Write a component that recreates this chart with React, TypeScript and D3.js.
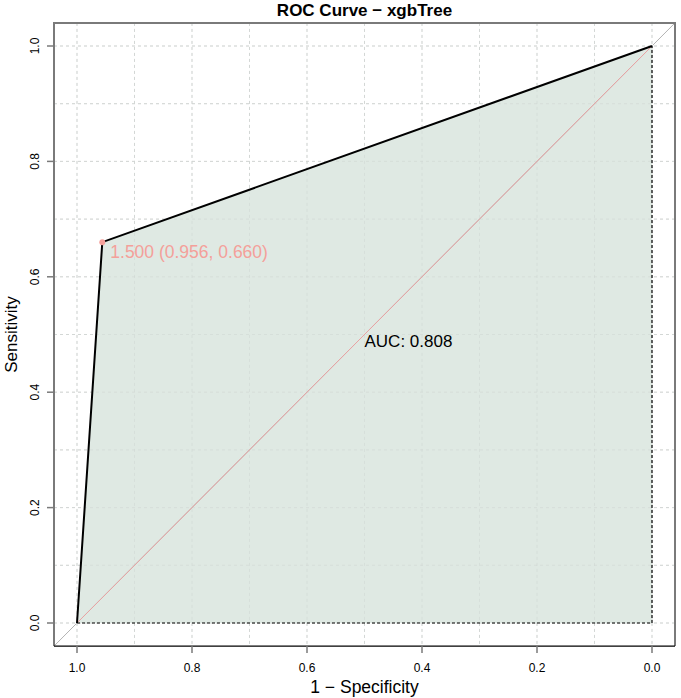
import React from "react";
import * as d3 from "d3";

const specificity = [1.0, 0.956, 0.0];
const sensitivity = [0.0, 0.66, 1.0];
const tickValues = [1.0, 0.8, 0.6, 0.4, 0.2, 0.0];
const gridValues = [0, 0.1, 0.2, 0.3, 0.4, 0.5, 0.6, 0.7, 0.8, 0.9, 1.0];
const threshold = { value: 1.5, spec: 0.956, sens: 0.66 };
const aucValue = 0.808;
const title = "ROC Curve \u2212 xgbTree";

export default function App() {
  const W = 681, H = 698;
  const x = d3.scaleLinear().domain([1, 0]).range([77, 652]);
  const y = d3.scaleLinear().domain([0, 1]).range([623, 46]);
  const x0 = x(1.04), x1 = x(-0.04), y0 = y(-0.04), y1 = y(1.04);
  const pts = specificity.map((s, i) => [s, sensitivity[i]] as [number, number]);
  const line = d3.line<[number, number]>().x(d => x(d[0])).y(d => y(d[1]));
  const area = line([...pts, [0, 0], [1, 0]]) + "Z";
  const font = "Liberation Sans, Arial, sans-serif";
  return (
    <svg width={W} height={H} style={{ position: "absolute", left: 0, top: 0 }} fontFamily={font}>
      <rect x={0} y={0} width={W} height={H} fill="#fff" />
      <text x={(x0 + x1) / 2} y={16} textAnchor="middle" fontWeight="bold" fontSize={17}>{title}</text>
      {gridValues.map(g => (
        <g key={g}>
          <line x1={x(g)} x2={x(g)} y1={y1} y2={y0} stroke="#d9d9d9" strokeDasharray="3,3" />
          <line x1={x0} x2={x1} y1={y(g)} y2={y(g)} stroke="#d9d9d9" strokeDasharray="3,3" />
        </g>
      ))}
      <path d={area} fill="#dfe9e3" />
      {gridValues.map(g => (
        <g key={"o" + g}>
          <line x1={x(g)} x2={x(g)} y1={y1} y2={y0} stroke="#cfd6d2" strokeDasharray="3,3" opacity={0.5} />
          <line x1={x0} x2={x1} y1={y(g)} y2={y(g)} stroke="#cfd6d2" strokeDasharray="3,3" opacity={0.5} />
        </g>
      ))}
      <line x1={x0} y1={y0} x2={x1} y2={y1} stroke="#b3b3b3" strokeWidth={1} />
      <line x1={x(1)} y1={y(0)} x2={x(0)} y2={y(1)} stroke="#eaa3a3" strokeWidth={1} />
      <line x1={x(1)} y1={y(0)} x2={x(0)} y2={y(0)} stroke="#000" strokeDasharray="3,2" strokeWidth={1.2} />
      <line x1={x(0)} y1={y(0)} x2={x(0)} y2={y(1)} stroke="#000" strokeDasharray="3,2" strokeWidth={1.2} />
      <path d={line(pts) || ""} fill="none" stroke="#000" strokeWidth={2} />
      <circle cx={x(threshold.spec)} cy={y(threshold.sens)} r={3} fill="#f4a09a" />
      <text x={x(threshold.spec) + 8} y={y(threshold.sens) + 16} fill="#f4a09a" fontSize={17.5}>
        {`${threshold.value.toFixed(3)} (${threshold.spec.toFixed(3)}, ${threshold.sens.toFixed(3)})`}
      </text>
      <text x={x(0.5)} y={y(0.5) + 12} fontSize={17} fill="#000">{`AUC: ${aucValue.toFixed(3)}`}</text>
      <path d={`M${x0},${y0}V${y1}H${x1}V${y0}`} fill="none" stroke="#7a7a7a" strokeWidth={2} />
      <line x1={x0} x2={x1} y1={y0} y2={y0} stroke="#000" strokeWidth={1.2} />
      {tickValues.map(t => (
        <g key={"t" + t}>
          <line x1={x(t)} x2={x(t)} y1={y0} y2={y0 + 7} stroke="#7a7a7a" strokeWidth={1.5} />
          <text x={x(t)} y={y0 + 26} textAnchor="middle" fontSize={12}>{t.toFixed(1)}</text>
          <line x1={x0} x2={x0 - 7} y1={y(1 - t)} y2={y(1 - t)} stroke="#7a7a7a" strokeWidth={1.5} />
          <text transform={`translate(${x0 - 15},${y(1 - t)}) rotate(-90)`} textAnchor="middle" fontSize={12}>{(1 - t).toFixed(1)}</text>
        </g>
      ))}
      <text x={(x0 + x1) / 2} y={693} textAnchor="middle" fontSize={17.5}>1 {"\u2212"} Specificity</text>
      <text transform={`translate(17,${(y0 + y1) / 2}) rotate(-90)`} textAnchor="middle" fontSize={17}>Sensitivity</text>
    </svg>
  );
}
